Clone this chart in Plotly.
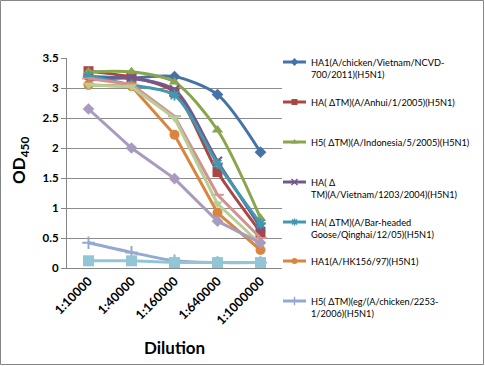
import plotly.graph_objects as go

W, H = 485, 366
categories = ["1:10000", "1:40000", "1:160000", "1:640000", "1:1000000"]

s1 = [3.19, 3.17, 3.19, 2.89, 1.93]
s2 = [3.28, 3.18, 2.93, 1.60, 0.60]
s3 = [3.27, 3.27, 3.10, 2.30, 0.83]
s4 = [3.13, 3.16, 2.97, 1.78, 0.68]
s5 = [3.20, 3.05, 2.88, 1.74, 0.74]
s6 = [3.05, 3.03, 2.22, 0.92, 0.30]
s7 = [0.42, 0.26, 0.12, 0.09, 0.09]
s8 = [3.16, 3.06, 2.53, 1.22, 0.50]
s9 = [3.05, 3.02, 2.50, 1.07, 0.40]
s10 = [2.65, 2.00, 1.49, 0.78, 0.42]
s11 = [0.12, 0.12, 0.09, 0.09, 0.09]

names = [
    "HA1(A/chicken/Vietnam/NCVD-<br>700/2011)(H5N1)",
    "HA( ΔTM)(A/Anhui/1/2005)(H5N1)",
    "H5( ΔTM)(A/Indonesia/5/2005)(H5N1)",
    "HA( Δ<br>TM)(A/Vietnam/1203/2004)(H5N1)",
    "HA( ΔTM)(A/Bar-headed<br>Goose/Qinghai/12/05)(H5N1)",
    "HA1(A/HK156/97)(H5N1)",
    "H5( ΔTM)(eg/(A/chicken/2253-<br>1/2006)(H5N1)",
    "Series8", "Series9", "Series10", "Series11",
]
series = [s1, s2, s3, s4, s5, s6, s7, s8, s9, s10, s11]
colors = ["#4572A7", "#AA4643", "#89A54E", "#71588F", "#4198AF", "#DB843D",
          "#93A9CF", "#D19392", "#B9CD96", "#A99BBD", "#92C5D6"]
symbols = ["diamond", "square", "triangle-up", "x-thin", "asterisk", "circle",
           "cross-thin", "line-ew", "triangle-down", "diamond", "square"]
sizes = [9, 10, 10, 9, 9, 10, 9, 9, 9, 9, 11]
shapes_line = ["spline"] * 5 + ["linear", "spline", "linear", "linear", "linear", "linear"]
OPEN = ("x-thin", "asterisk", "cross-thin", "line-ew")

# plot area in pixels
PL, PR, PT, PB = 67, 282, 58, 268

fig = go.Figure()
for vals, nm, c, sym, sz, ls in zip(series, names, colors, symbols, sizes, shapes_line):
    fig.add_trace(go.Scatter(
        x=categories, y=vals, name=nm, mode="lines+markers",
        line=dict(color=c, width=3, shape=ls, smoothing=0.8),
        marker=dict(symbol=sym, size=sz, color=c,
                    line=dict(color=c, width=2 if sym in OPEN else 0)),
        showlegend=False,
    ))

# manual legend (first 7 series visible, rest cut off as in reference)
leg_y = [62, 102, 142, 182, 222, 261, 301]
shapes = []
annotations = []
for i in range(7):
    y = leg_y[i]
    shapes.append(dict(type="line", xref="paper", yref="paper",
                       x0=283 / W, x1=306 / W, y0=1 - y / H, y1=1 - y / H,
                       line=dict(color=colors[i], width=3)))
    annotations.append(dict(xref="paper", yref="paper", x=309 / W, y=1 - (y - 7) / H,
                            xanchor="left", yanchor="top", align="left", showarrow=False,
                            text=names[i], font=dict(size=9.2, color="#000000", family="Lato")))
    fig.add_trace(go.Scatter(
        x=[294.5], y=[y], xaxis="x2", yaxis="y2", mode="markers",
        marker=dict(symbol=symbols[i], size=6, color=colors[i],
                    line=dict(color=colors[i], width=1.5 if symbols[i] in OPEN else 0)),
        showlegend=False, hoverinfo="skip"))

# chart border
shapes.append(dict(type="rect", xref="paper", yref="paper", x0=0.5 / W, x1=(W - 1.5) / W,
                   y0=1.5 / H, y1=1 - 0.5 / H, line=dict(color="#868686", width=1)))

annotations.append(dict(xref="paper", yref="paper", x=174 / W, y=1 - 347 / H,
                        xanchor="center", yanchor="middle", showarrow=False,
                        text="<b>Dilution</b>", font=dict(size=17, color="#000000", family="Lato")))
annotations.append(dict(xref="paper", yref="paper", x=20 / W, y=1 - 161 / H,
                        xanchor="center", yanchor="middle", showarrow=False, textangle=-90,
                        text="<b>OD<sub>450</sub></b>", font=dict(size=17, color="#000000", family="Lato")))

fig.update_layout(
    width=W, height=H, margin=dict(l=0, r=0, t=0, b=0),
    paper_bgcolor="white", plot_bgcolor="rgba(0,0,0,0)",
    font=dict(family="Lato", color="#000000"),
    xaxis=dict(domain=[PL / W, PR / W], type="category", range=[-0.5, 4.5],
               showgrid=False, showline=True, linecolor="#868686", linewidth=1,
               tickangle=-45, ticks="", tickfont=dict(size=12.5, family="Lato", color="#000000"),
               tickprefix="<b>", ticksuffix="</b>", automargin=False, fixedrange=True),
    yaxis=dict(domain=[1 - PB / H, 1 - PT / H], range=[0, 3.5],
               tickvals=[0, 0.5, 1, 1.5, 2, 2.5, 3, 3.5],
               ticktext=["<b>0</b>", "<b>0.5</b>", "<b>1</b>", "<b>1.5</b>", "<b>2</b>",
                         "<b>2.5</b>", "<b>3</b>", "<b>3.5</b>"],
               showgrid=True, gridcolor="#8C8C8C", gridwidth=1, zeroline=False,
               showline=True, linecolor="#868686", linewidth=1,
               ticks="outside", ticklen=5, tickcolor="#868686",
               tickfont=dict(size=11.5, family="Lato", color="#000000"), automargin=False),
    xaxis2=dict(domain=[0, 1], range=[0, W], visible=False, anchor="y2", fixedrange=True),
    yaxis2=dict(domain=[0, 1], range=[H, 0], visible=False, anchor="x2", fixedrange=True),
    shapes=shapes, annotations=annotations,
)

fig.write_html("out.html", config={"displayModeBar": False},
               post_script="document.body.style.margin='0';")
